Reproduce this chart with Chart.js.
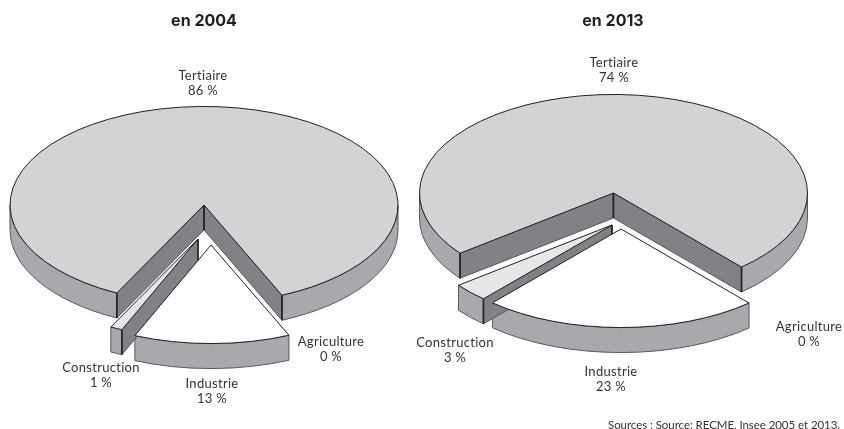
<!DOCTYPE html>
<html lang="fr">
<head>
<meta charset="utf-8">
<style>
  html, body { margin: 0; padding: 0; background: #fff; overflow: hidden; }
  #page { position: relative; width: 844px; height: 429px; }
  canvas { position: absolute; top: 0; }
  #source { position: absolute; right: 4px; top: 418px; font: 11.5px Lato, sans-serif; letter-spacing: -0.06px; color: #333; white-space: nowrap; }
</style>
</head>
<body>
<div id="page">
  <canvas id="pie2004" width="408" height="429" style="left:0"></canvas>
  <canvas id="pie2013" width="462" height="429" style="left:382px"></canvas>
  <div id="source">Sources : Source: RECME, Insee 2005 et 2013.</div>
</div>
<script src="https://cdn.jsdelivr.net/npm/chart.js@4"></script>
<script>
// --- DATA ---
const categories = ['Tertiaire', 'Agriculture', 'Industrie', 'Construction'];
const values2004 = [86, 0, 13, 1];
const values2013 = [74, 0, 23, 3];

// --- COLOURS ---
const topColors = ['#d1d3d4', '#ffffff', '#ffffff', '#e6e7e8'];
const wallColor = '#a7a9ac';
const faceColor = '#808285';
const lineColor = '#231f20';
const softLine = '#58595b';
const labelFont = '13px Lato, sans-serif';

const RADIUS = 194;
const SQUASH = 0.508;
const DEPTH = 25;

// angle of where Tertiaire starts, centre and shifts are page pixels
const layout2004 = {
    left: 0, center: { x: 204, y: 205 }, rotation: 206.7,
    shifts: [[0, 0], [0, 0], [7, 40], [-6, 34]],
    labels: [[203, 76], [331, 342], [212, 384], [101, 368]]
};
const layout2013 = {
    left: 382, center: { x: 613.5, y: 193 }, rotation: 232.3,
    shifts: [[0, 0], [0, 0], [7.5, 36], [-1.5, 32]],
    labels: [[614, 63], [809, 327], [611, 372], [455, 343]]
};

function topPath(ctx, c, a0, a1) {
    ctx.beginPath();
    ctx.moveTo(c.x, c.y);
    ctx.ellipse(c.x, c.y, RADIUS, RADIUS * SQUASH, 0, a0, a1);
    ctx.closePath();
}

function drawOuterWall(ctx, c, a0, a1) {
    const ry = RADIUS * SQUASH;
    // only the lower half of the rim faces the viewer
    for (let k = -1; k <= 2; k++) {
        const from = Math.max(a0, k * 2 * Math.PI);
        const to = Math.min(a1, k * 2 * Math.PI + Math.PI);
        if (to <= from) continue;
        ctx.beginPath();
        ctx.ellipse(c.x, c.y, RADIUS, ry, 0, from, to);
        ctx.ellipse(c.x, c.y + DEPTH, RADIUS, ry, 0, to, from, true);
        ctx.closePath();
        ctx.fillStyle = wallColor;
        ctx.strokeStyle = softLine;
        ctx.lineWidth = 1;
        ctx.fill();
        ctx.stroke();
    }
}

function drawFace(ctx, c, a) {
    const px = c.x + RADIUS * Math.cos(a);
    const py = c.y + RADIUS * SQUASH * Math.sin(a);
    ctx.beginPath();
    ctx.moveTo(c.x, c.y);
    ctx.lineTo(px, py);
    ctx.lineTo(px, py + DEPTH);
    ctx.lineTo(c.x, c.y + DEPTH);
    ctx.closePath();
    ctx.fillStyle = faceColor;
    ctx.strokeStyle = softLine;
    ctx.lineWidth = 1;
    ctx.fill();
    ctx.stroke();
    // corners of the cut are inked harder
    ctx.beginPath();
    ctx.moveTo(px, py);
    ctx.lineTo(px, py + DEPTH);
    ctx.moveTo(c.x, c.y);
    ctx.lineTo(c.x, c.y + DEPTH);
    ctx.strokeStyle = lineColor;
    ctx.lineWidth = 1.6;
    ctx.stroke();
}

function creerCamembert(id, titre, valeurs, conf) {
    const screenCenter = { x: conf.center.x - conf.left, y: conf.center.y };
    let origin = { x: 0, y: 0 };

    const sliceCenter = (i) => ({
        x: screenCenter.x + conf.shifts[i][0],
        y: screenCenter.y + conf.shifts[i][1]
    });

    const pie3d = {
        id: 'pie3d',
        afterDatasetsUpdate(chart) {
            const arcs = chart.getDatasetMeta(0).data;
            origin = { x: arcs[0].x, y: arcs[0].y };
            arcs.forEach((arc, i) => {
                arc.x = origin.x + conf.shifts[i][0];
                arc.y = origin.y + conf.shifts[i][1] / SQUASH;
            });
        },
        beforeDatasetsDraw(chart) {
            const ctx = chart.ctx;
            const arcs = chart.getDatasetMeta(0).data;
            ctx.save();
            ctx.lineJoin = 'round';
            arcs.forEach((arc, i) => {
                const { startAngle, endAngle } = arc;
                if (endAngle - startAngle < 1e-6) return;
                const c = sliceCenter(i);
                drawOuterWall(ctx, c, startAngle, endAngle);
                if (Math.cos(startAngle) < 0) drawFace(ctx, c, startAngle);
                if (Math.cos(endAngle) > 0) drawFace(ctx, c, endAngle);
            });
            ctx.restore();
            // the tops are drawn by Chart.js, flattened into ellipses
            ctx.save();
            ctx.translate(screenCenter.x, screenCenter.y);
            ctx.scale(1, SQUASH);
            ctx.translate(-origin.x, -origin.y);
        },
        afterDatasetsDraw(chart) {
            const ctx = chart.ctx;
            ctx.restore();
            const arcs = chart.getDatasetMeta(0).data;
            ctx.save();
            ctx.strokeStyle = lineColor;
            ctx.lineWidth = 1;
            ctx.lineJoin = 'round';
            arcs.forEach((arc, i) => {
                if (arc.endAngle - arc.startAngle < 1e-6) return;
                topPath(ctx, sliceCenter(i), arc.startAngle, arc.endAngle);
                ctx.stroke();
            });
            ctx.fillStyle = '#333';
            ctx.font = labelFont;
            ctx.letterSpacing = '0.3px';
            ctx.textAlign = 'center';
            ctx.textBaseline = 'middle';
            categories.forEach((nom, i) => {
                const x = conf.labels[i][0] - conf.left;
                const y = conf.labels[i][1];
                ctx.fillText(nom, x, y);
                ctx.fillText(valeurs[i] + ' %', x, y + 15);
            });
            ctx.restore();
        }
    };

    new Chart(document.getElementById(id), {
        type: 'pie',
        plugins: [pie3d],
        data: {
            labels: categories,
            datasets: [{
                data: valeurs,
                backgroundColor: topColors,
                borderWidth: 0,
                clip: false
            }]
        },
        options: {
            responsive: false,
            animation: false,
            events: [],
            radius: RADIUS,
            rotation: conf.rotation,
            plugins: {
                legend: { display: false },
                tooltip: { enabled: false },
                title: {
                    display: true,
                    text: titre,
                    color: lineColor,
                    font: { family: 'Inter', size: 16, weight: 'bold' },
                    padding: { top: 12, bottom: 0 }
                }
            }
        }
    });
}

creerCamembert('pie2004', 'en 2004', values2004, layout2004);
creerCamembert('pie2013', 'en 2013', values2013, layout2013);
</script>
</body>
</html>
